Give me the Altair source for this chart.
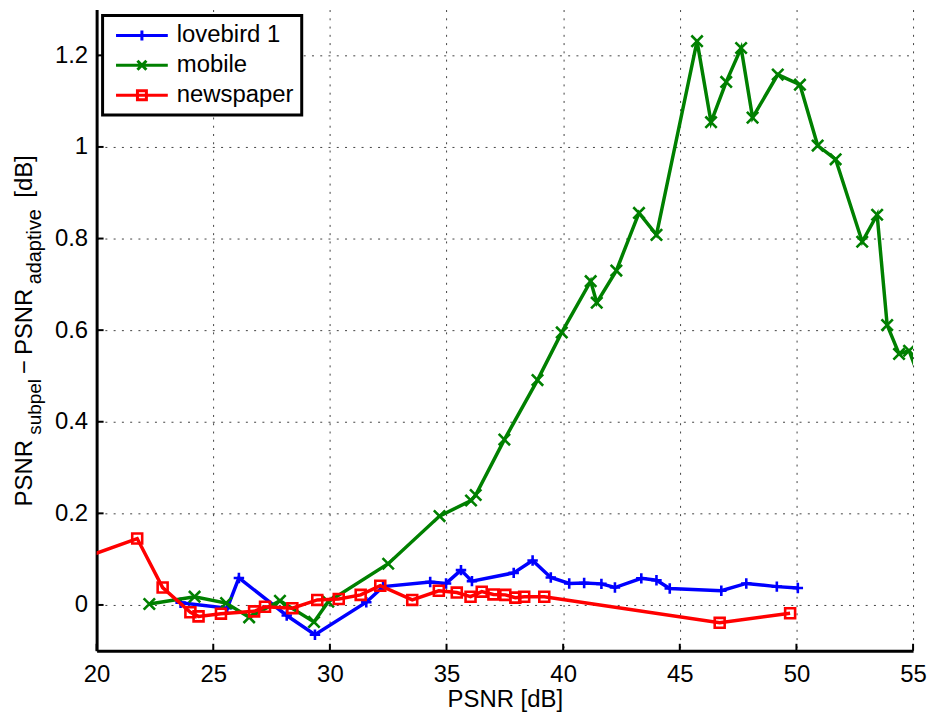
import altair as alt
import pandas as pd

# ---------------- data ----------------
series_names = ["lovebird 1", "mobile", "newspaper"]
series_colors = ["#0000FF", "#008000", "#FF0000"]

lovebird_x = [23.6, 25.6, 26.1, 28.15, 29.36, 31.56, 32.28, 34.3, 34.98, 35.62, 36.09, 37.88,
              38.69, 39.47, 40.26, 40.9, 41.64, 42.22, 43.35, 44.0, 44.57, 46.78, 47.85, 49.16, 50.06]
lovebird_y = [0.005, -0.007, 0.059, -0.023, -0.065, 0.006, 0.040, 0.050, 0.047, 0.076, 0.052, 0.070,
              0.097, 0.060, 0.047, 0.048, 0.046, 0.038, 0.058, 0.054, 0.036, 0.031, 0.047, 0.040, 0.037]

mobile_x = [22.26, 24.2, 25.55, 26.54, 27.86, 29.32, 29.93, 32.5, 34.7, 36.05, 36.25, 37.48, 38.9,
            39.94, 41.18, 41.44, 42.28, 43.25, 44.0, 45.74, 46.34, 46.99, 47.63, 48.12, 49.2, 50.15,
            50.91, 51.68, 52.82, 53.46, 53.89, 54.4, 54.83, 55.4]
mobile_y = [0.002, 0.018, 0.004, -0.027, 0.009, -0.037, 0.007, 0.09, 0.194, 0.228, 0.240, 0.361, 0.491,
            0.595, 0.707, 0.660, 0.730, 0.856, 0.808, 1.231, 1.054, 1.142, 1.216, 1.064, 1.158, 1.136,
            1.003, 0.973, 0.793, 0.852, 0.611, 0.548, 0.555, 0.478]

newspaper_x = [19.3, 21.74, 22.83, 24.02, 24.37, 25.33, 26.75, 27.22, 28.39, 29.46, 30.38, 31.32,
               32.16, 33.53, 34.67, 35.44, 36.03, 36.51, 37.01, 37.52, 37.95, 38.33, 39.19, 46.71, 49.73]
newspaper_y = [0.10, 0.145, 0.038, -0.016, -0.025, -0.019, -0.014, -0.004, -0.007, 0.011, 0.013, 0.022,
               0.042, 0.011, 0.031, 0.027, 0.018, 0.029, 0.023, 0.022, 0.016, 0.018, 0.018, -0.039, -0.018]

x_ticks = [20, 25, 30, 35, 40, 45, 50, 55]
y_ticks = [0, 0.2, 0.4, 0.6, 0.8, 1, 1.2]
x_domain = [20, 55]
y_domain = [-0.1, 1.3]

# ---------------- styling ----------------
FONT = "Liberation Sans"
W, H = 820, 644

marker_paths = {
    "lovebird 1": "M-1,0L1,0M0,-1L0,1",
    "mobile": "M-1,-1L1,1M-1,1L1,-1",
    "newspaper": "square",
}
marker_sizes = {"lovebird 1": 110, "mobile": 130, "newspaper": 100}
legend_paths = [
    "M-5.2,0L5.2,0M0,-1L0,1",
    "M-5.2,0L5.2,0M-0.9,-0.9L0.9,0.9M-0.9,0.9L0.9,-0.9",
    "M-5.2,0L5.2,0M-0.9,-0.9L0.9,-0.9L0.9,0.9L-0.9,0.9Z",
]

xscale = alt.Scale(domain=x_domain, nice=False, zero=False)
yscale = alt.Scale(domain=y_domain, nice=False, zero=False)

common_axis = dict(
    grid=True, gridDash=[2, 6.3], gridColor="#000000", gridOpacity=0.75, gridWidth=1,
    domainColor="#000000", domainWidth=3, ticks=False,
    labelFont=FONT, labelFontSize=24, labelColor="#000000", labelFlush=False, labelOverlap=False,
    titleFont=FONT, titleFontSize=24, titleFontWeight="normal", titleColor="#000000",
)
xaxis = alt.Axis(values=x_ticks, title="PSNR [dB]", labelPadding=12, titlePadding=1, **common_axis)
yaxis = alt.Axis(values=y_ticks, title="", format="~g", labelPadding=9, **common_axis)


def xenc():
    return alt.X("x:Q", scale=xscale, axis=xaxis)


def yenc():
    return alt.Y("y:Q", scale=yscale, axis=yaxis)


layers = []

# inward ticks
layers.append(
    alt.Chart(pd.DataFrame({"y": y_ticks})).mark_rule(color="black", strokeWidth=2)
    .encode(y=yenc(), x=alt.value(0), x2=alt.value(7))
)
layers.append(
    alt.Chart(pd.DataFrame({"x": x_ticks})).mark_rule(color="black", strokeWidth=2)
    .encode(x=xenc(), y=alt.value(H), y2=alt.value(H - 7))
)

all_x = [lovebird_x, mobile_x, newspaper_x]
all_y = [lovebird_y, mobile_y, newspaper_y]
for name, color, xs, ys in zip(series_names, series_colors, all_x, all_y):
    df = pd.DataFrame({"x": xs, "y": ys, "series": name})
    layers.append(
        alt.Chart(df).mark_line(color=color, strokeWidth=3.5, clip=True).encode(x=xenc(), y=yenc())
    )
    layers.append(
        alt.Chart(df).mark_point(shape=marker_paths[name], size=marker_sizes[name], color=color,
                                 filled=False, strokeWidth=2.6, opacity=1, clip=True)
        .encode(x=xenc(), y=yenc())
    )

# legend layer (no data rows drawn, only provides the legend)
legend_df = pd.DataFrame({"series": series_names})
leg = alt.Legend(
    title=None, orient="none", legendX=6, legendY=6, padding=8, rowPadding=6,
    labelFont=FONT, labelFontSize=24, labelColor="#000000", labelOffset=23,
    symbolOffset=19.5, symbolSize=100, symbolStrokeWidth=3,
    fillColor="#FFFFFF", strokeColor="#000000",
)
layers.append(
    alt.Chart(legend_df).transform_filter("false")
    .mark_point(filled=False, strokeWidth=3, opacity=1)
    .encode(
        color=alt.Color("series:N", scale=alt.Scale(domain=series_names, range=series_colors), legend=leg),
        shape=alt.Shape("series:N", scale=alt.Scale(domain=series_names, range=legend_paths), legend=leg),
    )
)

# y-axis title with subscripts
one = pd.DataFrame({"a": [0]})
title_parts = [
    ("PSNR", 24, -65, 499, "left"),
    ("subpel", 19, -56, 427, "left"),
    ("\u2212", 24, -65, 359, "center"),
    ("PSNR", 24, -65, 347, "left"),
    ("adaptive", 20, -56, 276, "left"),
    ("[dB]", 24, -65, 189, "left"),
]
for txt, fs, px, py, al in title_parts:
    layers.append(
        alt.Chart(one).mark_text(text=txt, font=FONT, fontSize=fs, angle=270, align=al,
                                 baseline="alphabetic", color="#000000")
        .encode(x=alt.value(px), y=alt.value(py))
    )

chart = alt.layer(*layers).properties(
    width=W, height=H,
    autosize=alt.AutoSizeParams(type="none"),
    padding={"left": 89, "top": 0, "right": 14, "bottom": 66},
    background="#FFFFFF",
).configure_view(strokeWidth=0).configure_legend(strokeWidth=3)

chart.save("out.html", embed_options={"renderer": "svg", "actions": False})
